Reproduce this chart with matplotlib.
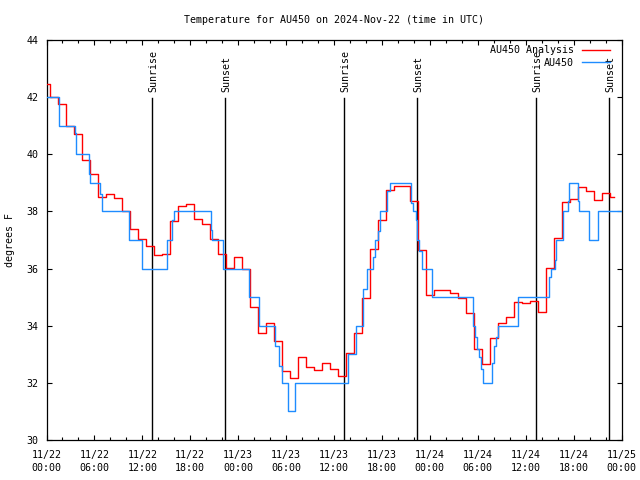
import matplotlib
matplotlib.use("Agg")
import matplotlib.pyplot as plt
from matplotlib.ticker import MultipleLocator, FixedLocator
import numpy as np

# ---- data (hours since 2024-11-22 00:00 UTC) ----
analysis_hours = list(range(0, 72))
analysis_temps = [42.45, 42.0, 41.75, 41.0, 40.7, 39.8, 39.3, 38.5, 38.6, 38.46,
                  38.0, 37.4, 37.05, 36.8, 36.47, 36.5, 37.67, 38.2, 38.25, 37.75,
                  37.55, 37.02, 36.5, 36.03, 36.42, 36.0, 34.67, 33.73, 34.08, 33.45,
                  32.4, 32.16, 32.91, 32.55, 32.45, 32.68, 32.5, 32.24, 33.06, 33.73,
                  34.96, 36.68, 37.7, 38.75, 38.89, 38.89, 38.37, 36.65, 35.07, 35.25,
                  35.25, 35.13, 34.96, 34.43, 33.2, 32.66, 33.56, 34.08, 34.31, 34.84,
                  34.78, 34.87, 34.49, 36.01, 37.06, 38.34, 38.42, 38.84, 38.73, 38.4,
                  38.63, 38.49]

obs_hours = [0, 1.6, 3.52, 3.67, 5.28, 5.43, 6.74, 6.94, 10.35, 11.9,
             15.12, 15.72, 15.97, 20.63, 20.78, 22.14, 25.35, 26.65, 28.66, 29.06,
             29.46, 30.22, 31.17, 37.79, 38.8, 39.6, 40.1, 40.86, 41.1, 41.5,
             41.7, 42.61, 42.96, 45.67, 45.92, 46.22, 46.42, 46.67, 46.97, 48.33,
             53.45, 53.70, 53.95, 54.15, 54.35, 54.6, 55.8, 56.05, 56.3, 56.56,
             59.07, 62.98, 63.18, 63.68, 63.78, 64.64, 65.24, 65.44, 66.5, 66.7,
             67.9, 69.1, 72.0]
obs_temps = [42, 41, 40.75, 40, 39.3, 39, 38.6, 38, 37, 36,
             37, 37.7, 38, 37.35, 37, 36, 35, 34, 33.3, 32.6,
             32, 31, 32, 33, 34, 35.3, 36, 36.4, 37, 37.3,
             38, 38.7, 39, 38.3, 38, 37.7, 37, 36.6, 36, 35,
             34, 33.6, 33.2, 32.9, 32.5, 32, 32.7, 33.3, 33.6, 34,
             35, 35.7, 36, 36.3, 37, 38, 38.35, 39, 38.35, 38,
             37, 38, 38]

sunrise_hours = [13.25, 37.29, 61.33]
sunset_hours = [22.39, 46.43, 70.40]

xtick_hours = list(range(0, 73, 6))
xtick_labels = ["11/22\n00:00", "11/22\n06:00", "11/22\n12:00", "11/22\n18:00",
                "11/23\n00:00", "11/23\n06:00", "11/23\n12:00", "11/23\n18:00",
                "11/24\n00:00", "11/24\n06:00", "11/24\n12:00", "11/24\n18:00",
                "11/25\n00:00"]

FONT = "DejaVu Sans Mono"
FS = 7.2
plt.rcParams['font.family'] = [FONT, 'DejaVu Sans']

fig = plt.figure(figsize=(6.4, 4.8), dpi=100)
L, R, T, B = 46.5, 621.5, 40, 440
ax = fig.add_axes([L / 640, 1 - B / 480, (R - L) / 640, (B - T) / 480])

ax.plot(analysis_hours, analysis_temps, drawstyle='steps-mid', color='#ff0000',
        lw=1.0, label='AU450 Analysis', zorder=3)
ax.plot(obs_hours, obs_temps, drawstyle='steps-post', color='#1e8cff',
        lw=1.0, label='AU450', zorder=4)

line_top = 1 - (98 - T) / (B - T)
text_bottom = 1 - (92 - T) / (B - T)
for h in sunrise_hours:
    ax.axvline(h, ymin=0, ymax=line_top, color='black', lw=1.0, zorder=2)
    ax.text(h + 0.15, text_bottom, 'Sunrise', rotation=90, ha='center', va='bottom',
            transform=ax.get_xaxis_transform(), fontsize=FS, family=FONT)
for h in sunset_hours:
    ax.axvline(h, ymin=0, ymax=line_top, color='black', lw=1.0, zorder=2)
    ax.text(h + 0.15, text_bottom, 'Sunset', rotation=90, ha='center', va='bottom',
            transform=ax.get_xaxis_transform(), fontsize=FS, family=FONT)

ax.set_xlim(0, 72)
ax.set_ylim(30, 44)
ax.xaxis.set_major_locator(FixedLocator(xtick_hours))
ax.set_xticklabels(xtick_labels, fontsize=FS, family=FONT, linespacing=1.35)
ax.xaxis.set_minor_locator(MultipleLocator(2))
ax.yaxis.set_major_locator(MultipleLocator(2))
for lab in ax.get_yticklabels():
    lab.set_fontsize(FS)
    lab.set_family(FONT)
ax.tick_params(which='both', direction='in', top=True, right=True, width=0.8, colors='black')
ax.tick_params(which='major', length=3.5)
ax.tick_params(which='minor', length=2.0)
ax.tick_params(axis='x', which='major', pad=7)
ax.tick_params(axis='y', which='major', pad=6)
for s in ax.spines.values():
    s.set_linewidth(0.9)
    s.set_color('black')

fig.text(334 / 640, 1 - 20 / 480, 'Temperature for AU450 on 2024-Nov-22 (time in UTC)',
         ha='center', va='center', fontsize=FS, family=FONT)
fig.text(10 / 640, 0.5, 'degrees F', rotation=90, ha='center', va='center',
         fontsize=FS, family=FONT)

leg = ax.legend(loc='upper right', bbox_to_anchor=((609.5 - L) / (R - L), 1 - (45.5 - T) / (B - T)),
                frameon=False, markerfirst=False, fontsize=FS, handlelength=2.8,
                handletextpad=0.8, labelspacing=0.25, borderpad=0, borderaxespad=0,
                prop={'family': FONT, 'size': FS})

fig.savefig('out.png', dpi=100)
